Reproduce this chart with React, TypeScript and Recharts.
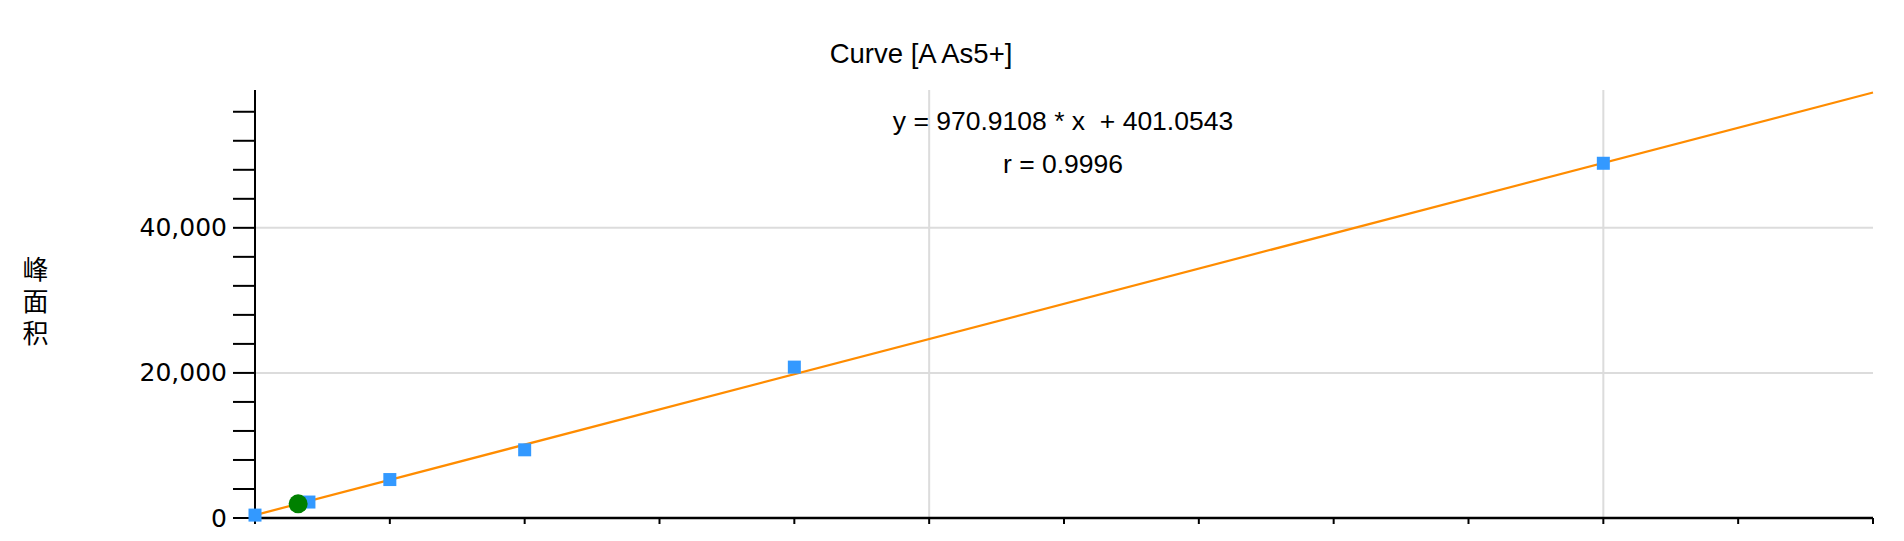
import React from "react";
import { ScatterChart, Scatter, XAxis, YAxis, ReferenceLine } from "recharts";

// calibration standards (concentration vs. peak area)
const STD_X = [0, 2, 5, 10, 20, 50];
const STD_Y = [400, 2200, 5300, 9400, 20800, 48900];

// sample point
const SAMPLE_X = [1.6];
const SAMPLE_Y = [1950];

// ends of the regression line y = 970.9108 * x + 401.0543
const FIT_X = [0, 60];
const FIT_Y = [401, 58656];

const X_TICKS = [0, 5, 10, 15, 20, 25, 30, 35, 40, 45, 50, 55, 60];
const Y_TICKS = [0, 4000, 8000, 12000, 16000, 20000, 24000, 28000, 32000, 36000, 40000, 44000, 48000, 52000, 56000];
const Y_LABELED = [0, 20000, 40000];
const GRID_X = [25, 50];
const GRID_Y = [20000, 40000];

const TITLE = "Curve [A As5+]";
const EQUATION = "y = 970.9108 * x  + 401.0543";
const R_TEXT = "r = 0.9996";
const Y_TITLE = "峰面积";

const standards = STD_X.map((x, i) => ({ x, y: STD_Y[i] }));
const sample = SAMPLE_X.map((x, i) => ({ x, y: SAMPLE_Y[i] }));
const fit = FIT_X.map((x, i) => ({ x, y: FIT_Y[i] }));

const SquareDot = (props: any) => {
  const { cx, cy } = props;
  return <rect x={cx - 6.5} y={cy - 6.5} width={13} height={13} fill="#3399ff" />;
};

const GreenDot = (props: any) => {
  const { cx, cy } = props;
  return <circle cx={cx} cy={cy} r={9.5} fill="#008000" />;
};

const YTick = (props: any) => {
  const { x, y, payload } = props;
  if (!Y_LABELED.includes(payload.value)) return <g />;
  return (
    <text x={x} y={y} textAnchor="end" dominantBaseline="central" fontFamily="DejaVu Sans" fontSize={25} fill="#000">
      {payload.value.toLocaleString("en-US")}
    </text>
  );
};

const textStyle: React.CSSProperties = {
  position: "absolute",
  fontFamily: "'Liberation Sans', Arial, sans-serif",
  fontSize: 26.5,
  lineHeight: "30px",
  color: "#000",
  textAlign: "center",
  whiteSpace: "pre",
};

export default function App() {
  return (
    <div style={{ position: "absolute", left: 0, top: 0, width: 1904, height: 541, background: "#fff" }}>
      <ScatterChart width={1904} height={541} margin={{ top: 90, right: 31, bottom: 8, left: 0 }}>
        <XAxis
          type="number"
          dataKey="x"
          domain={[0, 60]}
          ticks={X_TICKS}
          interval={0}
          height={15}
          tickSize={6}
          tick={() => <g />}
          axisLine={{ stroke: "#000", strokeWidth: 2.5 }}
          tickLine={{ stroke: "#000", strokeWidth: 2 }}
        />
        <YAxis
          type="number"
          dataKey="y"
          domain={[0, 59000]}
          ticks={Y_TICKS}
          interval={0}
          width={255}
          tickSize={22}
          tickMargin={6}
          tick={YTick}
          axisLine={{ stroke: "#000", strokeWidth: 2 }}
          tickLine={{ stroke: "#000", strokeWidth: 2 }}
        />
        {GRID_Y.map((v) => (
          <ReferenceLine key={"gy" + v} y={v} stroke="#dcdcdc" strokeWidth={2} />
        ))}
        {GRID_X.map((v) => (
          <ReferenceLine key={"gx" + v} x={v} stroke="#dcdcdc" strokeWidth={2} />
        ))}
        <Scatter
          data={fit}
          line={{ stroke: "#ff8c00", strokeWidth: 2.2 }}
          shape={() => <g />}
          isAnimationActive={false}
        />
        <Scatter data={standards} shape={SquareDot} isAnimationActive={false} />
        <Scatter data={sample} shape={GreenDot} isAnimationActive={false} />
      </ScatterChart>

      <div style={{ ...textStyle, fontSize: 27.5, left: 721, width: 400, top: 39 }}>{TITLE}</div>
      <div style={{ ...textStyle, left: 863, width: 400, top: 106 }}>{EQUATION}</div>
      <div style={{ ...textStyle, left: 863, width: 400, top: 149 }}>{R_TEXT}</div>

      <div
        style={{
          position: "absolute",
          left: 21,
          top: 256,
          fontFamily: "'Noto Sans CJK SC', sans-serif",
          fontSize: 26,
          lineHeight: "28px",
          writingMode: "vertical-rl",
          letterSpacing: 6,
          color: "#000",
        }}
      >
        {Y_TITLE}
      </div>
    </div>
  );
}
